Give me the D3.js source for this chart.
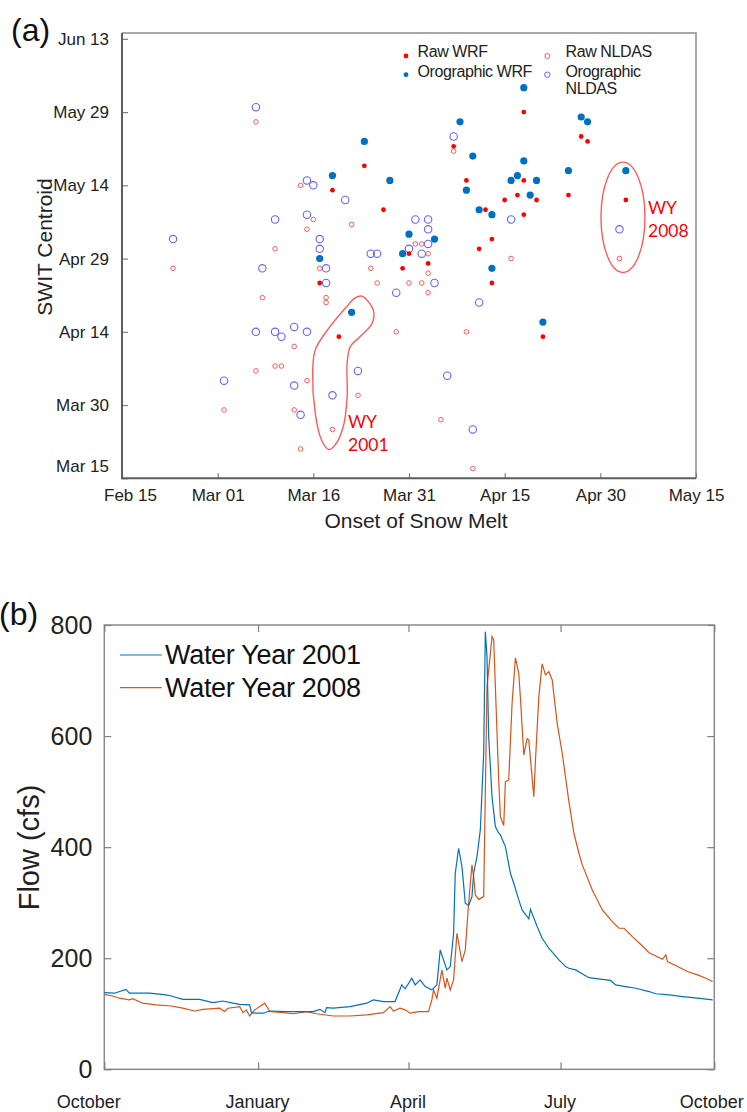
<!DOCTYPE html>
<html>
<head>
<meta charset="utf-8">
<script src="https://cdn.jsdelivr.net/npm/d3@7"></script>
<style>
  body { margin: 0; background: #fff; }
  svg { display: block; font-family: "Liberation Sans", Arial, sans-serif; }
</style>
</head>
<body>
<svg id="chart" width="747" height="1112"></svg>
<script>
// ---------- panel (a): day-of-year values (leap-year numbering) ----------
const onsetTicks = [46, 61, 76, 91, 106, 121, 136];
const onsetLabels = ['Feb 15', 'Mar 01', 'Mar 16', 'Mar 31', 'Apr 15', 'Apr 30', 'May 15'];
const centroidTicks = [75, 90, 105, 120, 135, 150, 165];
const centroidLabels = ['Mar 15', 'Mar 30', 'Apr 14', 'Apr 29', 'May 14', 'May 29', 'Jun 13'];

// [onset, centroid]
const rawWRF = [[84,139],[79,134],[109,150],[98,143],[118,145],[119,144],[100,136],[109,136],[108,133],
  [106,132],[111,132],[116,133],[125,132],[87,130],[103,130],[109,129],[104,124],[102,122],[91,121],
  [90,118],[94,119],[104,115],[77,115],[80,104],[112,104]];
const oroWRF = [[84,144],[79,137],[109,155],[99,148],[118,149],[119,148],[101,141],[109,140],[88,136],
  [100,134],[107,136],[108,137],[111,136],[110,133],[116,138],[125,138],[102,130],[104,129],[95,124],
  [91,125],[90,121],[104,118],[77,120],[82,109],[112,107]];
const rawNLDAS = [[67,148],[74,135],[76,128],[75,126],[82,127],[70,122],[54,118],[77,118],[85,118],
  [86,115],[68,112],[78,112],[78,111],[73,102],[67,97],[70,98],[71,98],[75,95],[83,92],[62,89],[73,89],
  [79,85],[74,81],[98,142],[92,123],[93,123],[94,121],[107,120],[124,120],[91,115],[93,115],[94,113],
  [94,117],[89,105],[100,105],[96,87],[101,77]];
const oroNLDAS = [[67,151],[75,136],[76,135],[81,132],[70,128],[75,129],[54,124],[77,124],[77,122],
  [85,121],[86,121],[68,118],[78,118],[78,115],[67,105],[70,105],[71,104],[73,106],[75,105],[83,97],
  [62,95],[73,94],[79,92],[74,88],[98,145],[92,128],[94,128],[94,126],[94,123],[91,122],[93,121],
  [107,128],[124,126],[95,115],[89,113],[102,111],[97,96],[101,85]];

// hand-drawn outline around WY 2001, and ellipse around WY 2008 (data units)
const wy2001Outline = [[83.6,112.3],[85.4,109.5],[85.2,106.7],[83.3,104.0],[81.8,102.0],[81.3,98.6],
  [81.3,91.7],[80.7,85.6],[79.4,81.8],[78.4,80.9],[77.3,82.8],[76.3,88.3],[75.9,96.5],[76.3,101.3],
  [78.4,105.7],[81.2,110.1],[82.5,111.9]];
const wy2008Ellipse = { cx: 124.55, cy: 128.45, rx: 3.45, ry: 11.3 };

// ---------- panel (b): day of water year (0 = Oct 1) and flow in cfs ----------
const monthTicks = [0, 92, 182, 273, 365];
const monthLabels = ['October', 'January', 'April', 'July', 'October'];
const flowTicks = [0, 200, 400, 600, 800];

const wy2001 = [[0,138],[6,137],[13,144],[15,137],[27,137],[37,134],[40,132],[47,126],[57,126],[65,120],
  [71,123],[77,119],[81,117],[87,116],[88,102],[91,101],[95,101],[99,105],[109,104],[117,104],[125,104],
  [129,108],[132,102],[133,111],[137,110],[147,113],[157,119],[161,125],[167,122],[174,122],[178,152],
  [180,145],[184,164],[186,152],[189,161],[192,149],[196,143],[199,152],[201,215],[203,197],[205,179],
  [207,185],[209,245],[210,353],[212,398],[214,365],[216,299],[218,295],[220,311],[221,353],[223,383],
  [225,431],[227,569],[228,788],[229,743],[230,599],[232,491],[234,437],[236,425],[237,422],[240,401],
  [243,353],[245,335],[248,305],[250,287],[254,271],[255,288],[259,257],[262,236],[266,218],[272,197],
  [276,185],[278,182],[282,179],[290,165],[298,162],[303,160],[306,152],[312,149],[318,146],[326,140],
  [330,136],[338,134],[346,131],[355,128],[364,125]];
const wy2008 = [[0,135],[5,132],[9,128],[15,125],[17,127],[23,119],[31,116],[40,114],[47,110],[54,105],
  [59,108],[69,110],[72,104],[74,110],[81,113],[83,102],[85,107],[87,96],[90,107],[96,119],[99,104],
  [107,102],[113,100],[121,104],[127,100],[137,96],[147,96],[157,98],[167,102],[171,113],[173,105],
  [177,110],[180,107],[183,101],[188,104],[194,104],[196,125],[197,143],[199,128],[202,179],[204,146],
  [205,164],[207,143],[209,161],[211,245],[214,194],[216,215],[218,299],[220,368],[221,347],[222,314],
  [224,306],[227,311],[229,689],[232,779],[233,773],[234,689],[236,521],[237,455],[239,439],[240,518],
  [242,521],[244,659],[246,741],[248,713],[249,668],[251,566],[253,595],[254,593],[257,491],[258,557],
  [260,671],[262,730],[264,710],[266,716],[268,701],[271,623],[274,569],[278,482],[281,425],[284,389],
  [286,368],[292,323],[298,287],[304,266],[308,254],[311,254],[316,239],[322,222],[326,210],[334,198],
  [336,206],[337,194],[343,185],[349,176],[355,170],[360,164],[364,158]];

const svg = d3.select('#chart');
const textColor = '#222';

function styleAxis(g, size) {
    g.attr('font-family', null).attr('font-size', null);
    g.selectAll('.tick line').attr('stroke', '#7f7f7f').attr('stroke-width', 1.2);
    g.selectAll('text').attr('fill', textColor).attr('font-size', size);
    g.select('.domain').remove();
}

// ================= panel (a) =================
const xA = d3.scaleLinear().domain([46, 136]).range([122, 696]);
const yA = d3.scaleLinear().domain([75, 166.2]).range([478.3, 33]);
const gA = svg.append('g');

// box
gA.append('path')
    .attr('d', `M${xA(46)},${yA(166.2)}H${xA(136)}V${yA(75)}`)
    .attr('fill', 'none').attr('stroke', '#8c8c8c').attr('stroke-width', 1.5);

const axBottomA = gA.append('g')
    .attr('transform', `translate(0,${yA(75)})`)
    .call(d3.axisBottom(xA).tickValues(onsetTicks).tickFormat((d, i) => onsetLabels[i])
        .tickSizeInner(-5).tickSizeOuter(0).tickPadding(11));
styleAxis(axBottomA, 17);
axBottomA.selectAll('text').filter((d, i) => i === 0).attr('dx', 8);

const axLeftA = gA.append('g')
    .attr('transform', `translate(${xA(46)},0)`)
    .call(d3.axisLeft(yA).tickValues(centroidTicks).tickFormat((d, i) => centroidLabels[i])
        .tickSizeInner(-6).tickSizeOuter(0).tickPadding(13));
styleAxis(axLeftA, 17);
axLeftA.selectAll('text').filter((d, i) => i === 0).attr('dy', '-0.4em');

gA.append('path')
    .attr('d', `M${xA(46)},${yA(166.2)}V${yA(75)}H${xA(136)}`)
    .attr('fill', 'none').attr('stroke', '#5e5e5e').attr('stroke-width', 2);

// annotations
gA.append('path')
    .datum(wy2001Outline)
    .attr('d', d3.line().x(d => xA(d[0])).y(d => yA(d[1])).curve(d3.curveCatmullRomClosed))
    .attr('fill', 'none').attr('stroke', '#ff5b5b').attr('stroke-width', 1.4);
gA.append('ellipse')
    .attr('cx', xA(wy2008Ellipse.cx)).attr('cy', yA(wy2008Ellipse.cy))
    .attr('rx', xA(wy2008Ellipse.cx + wy2008Ellipse.rx) - xA(wy2008Ellipse.cx))
    .attr('ry', yA(wy2008Ellipse.cy) - yA(wy2008Ellipse.cy + wy2008Ellipse.ry))
    .attr('fill', 'none').attr('stroke', '#ff5b5b').attr('stroke-width', 1.4);

const wyText = [['WY', 348, 428.3], ['2001', 348, 450.5], ['WY', 648, 213.7], ['2008', 648, 237.3]];
gA.selectAll('.wy').data(wyText).enter().append('text')
    .attr('x', d => d[1]).attr('y', d => d[2])
    .attr('fill', '#ff0000').attr('font-family', 'Lato, "Open Sans", sans-serif').attr('font-size', 17.5)
    .text(d => d[0]);

// points
gA.append('g').selectAll('circle').data(oroNLDAS).enter().append('circle')
    .attr('cx', d => xA(d[0])).attr('cy', d => yA(d[1])).attr('r', 3.7)
    .attr('fill', 'none').attr('stroke', '#6464ff').attr('stroke-width', 1.1);
gA.append('g').selectAll('circle').data(rawNLDAS).enter().append('circle')
    .attr('cx', d => xA(d[0])).attr('cy', d => yA(d[1])).attr('r', 2.3)
    .attr('fill', 'none').attr('stroke', '#ff5a5a').attr('stroke-width', 1);
gA.append('g').selectAll('circle').data(oroWRF).enter().append('circle')
    .attr('cx', d => xA(d[0])).attr('cy', d => yA(d[1])).attr('r', 3.6)
    .attr('fill', '#0070c0');
gA.append('g').selectAll('circle').data(rawWRF).enter().append('circle')
    .attr('cx', d => xA(d[0])).attr('cy', d => yA(d[1])).attr('r', 2.4)
    .attr('fill', '#ff0000');

// legend (a)
const legA = gA.append('g').attr('font-size', 16).attr('fill', textColor);
legA.append('circle').attr('cx', 406).attr('cy', 56).attr('r', 2.4).attr('fill', '#ff0000');
legA.append('circle').attr('cx', 406).attr('cy', 74.7).attr('r', 2.4).attr('fill', '#0070c0');
legA.append('circle').attr('cx', 547.3).attr('cy', 56).attr('r', 2.5)
    .attr('fill', 'none').attr('stroke', '#ff5a5a').attr('stroke-width', 1);
legA.append('circle').attr('cx', 547.3).attr('cy', 74.7).attr('r', 2.7)
    .attr('fill', 'none').attr('stroke', '#6464ff').attr('stroke-width', 1);
legA.append('text').attr('x', 417.5).attr('y', 57.3).attr('letter-spacing', -0.4).text('Raw WRF');
legA.append('text').attr('x', 417.5).attr('y', 76.5).attr('letter-spacing', -0.4).text('Orographic WRF');
legA.append('text').attr('x', 565.5).attr('y', 57.3).attr('letter-spacing', -0.4).text('Raw NLDAS');
legA.append('text').attr('x', 565.5).attr('y', 76.5).attr('letter-spacing', -0.4).text('Orographic');
legA.append('text').attr('x', 565.5).attr('y', 93.7).attr('letter-spacing', -0.4).text('NLDAS');

// labels (a)
svg.append('text').attr('x', 11).attr('y', 41).attr('font-size', 32).attr('fill', '#111').text('(a)');
svg.append('text').attr('transform', 'translate(51.5,247) rotate(-90)')
    .attr('text-anchor', 'middle').attr('font-size', 21).attr('fill', textColor).text('SWIT Centroid');
svg.append('text').attr('x', 416).attr('y', 528).attr('text-anchor', 'middle')
    .attr('font-size', 21).attr('fill', textColor).text('Onset of Snow Melt');

// ================= panel (b) =================
const xB = d3.scaleLinear().domain([0, 365]).range([104.3, 714.3]);
const yB = d3.scaleLinear().domain([0, 800]).range([1069.3, 625]);
const gB = svg.append('g');

gB.append('rect')
    .attr('x', xB(0)).attr('y', yB(800))
    .attr('width', xB(365) - xB(0)).attr('height', yB(0) - yB(800))
    .attr('fill', 'none').attr('stroke', '#8a8a8a').attr('stroke-width', 1.5);

const axBottomB = gB.append('g')
    .attr('transform', `translate(0,${yB(0)})`)
    .call(d3.axisBottom(xB).tickValues(monthTicks).tickFormat((d, i) => monthLabels[i])
        .tickSizeInner(-7).tickSizeOuter(0).tickPadding(25.5));
styleAxis(axBottomB, 18);
axBottomB.selectAll('text').attr('dx', (d, i) => i === 0 ? -16 : (i === 4 ? -3 : -1));

const axTopB = gB.append('g')
    .attr('transform', `translate(0,${yB(800)})`)
    .call(d3.axisTop(xB).tickValues(monthTicks).tickFormat('').tickSizeInner(-7).tickSizeOuter(0));
styleAxis(axTopB, 18);

const axLeftB = gB.append('g')
    .attr('transform', `translate(${xB(0)},0)`)
    .call(d3.axisLeft(yB).tickValues(flowTicks).tickSizeInner(-7).tickSizeOuter(0).tickPadding(12));
styleAxis(axLeftB, 25);

const axRightB = gB.append('g')
    .attr('transform', `translate(${xB(365)},0)`)
    .call(d3.axisRight(yB).tickValues(flowTicks).tickFormat('').tickSizeInner(-7).tickSizeOuter(0));
styleAxis(axRightB, 25);

const flowLine = d3.line().x(d => xB(d[0])).y(d => yB(d[1]));
gB.append('path').datum(wy2008).attr('d', flowLine)
    .attr('fill', 'none').attr('stroke', '#d95319').attr('stroke-width', 1.2);
gB.append('path').datum(wy2001).attr('d', flowLine)
    .attr('fill', 'none').attr('stroke', '#0072bd').attr('stroke-width', 1.2);

// legend (b)
const legendB = [['Water Year 2001', '#0072bd', 655, 664], ['Water Year 2008', '#d95319', 687.7, 696.7]];
const legB = gB.append('g');
legB.selectAll('line').data(legendB).enter().append('line')
    .attr('x1', 120).attr('x2', 161.7).attr('y1', d => d[2]).attr('y2', d => d[2])
    .attr('stroke', d => d[1]).attr('stroke-width', 1.2);
legB.selectAll('text').data(legendB).enter().append('text')
    .attr('x', 165).attr('y', d => d[3]).attr('font-size', 27).attr('fill', '#111')
    .attr('letter-spacing', -0.3).text(d => d[0]);

// labels (b)
svg.append('text').attr('x', -1).attr('y', 625).attr('font-size', 32).attr('fill', '#111').text('(b)');
svg.append('text').attr('transform', 'translate(39,847.5) rotate(-90)')
    .attr('text-anchor', 'middle').attr('font-size', 29).attr('fill', textColor).text('Flow (cfs)');
</script>
</body>
</html>
